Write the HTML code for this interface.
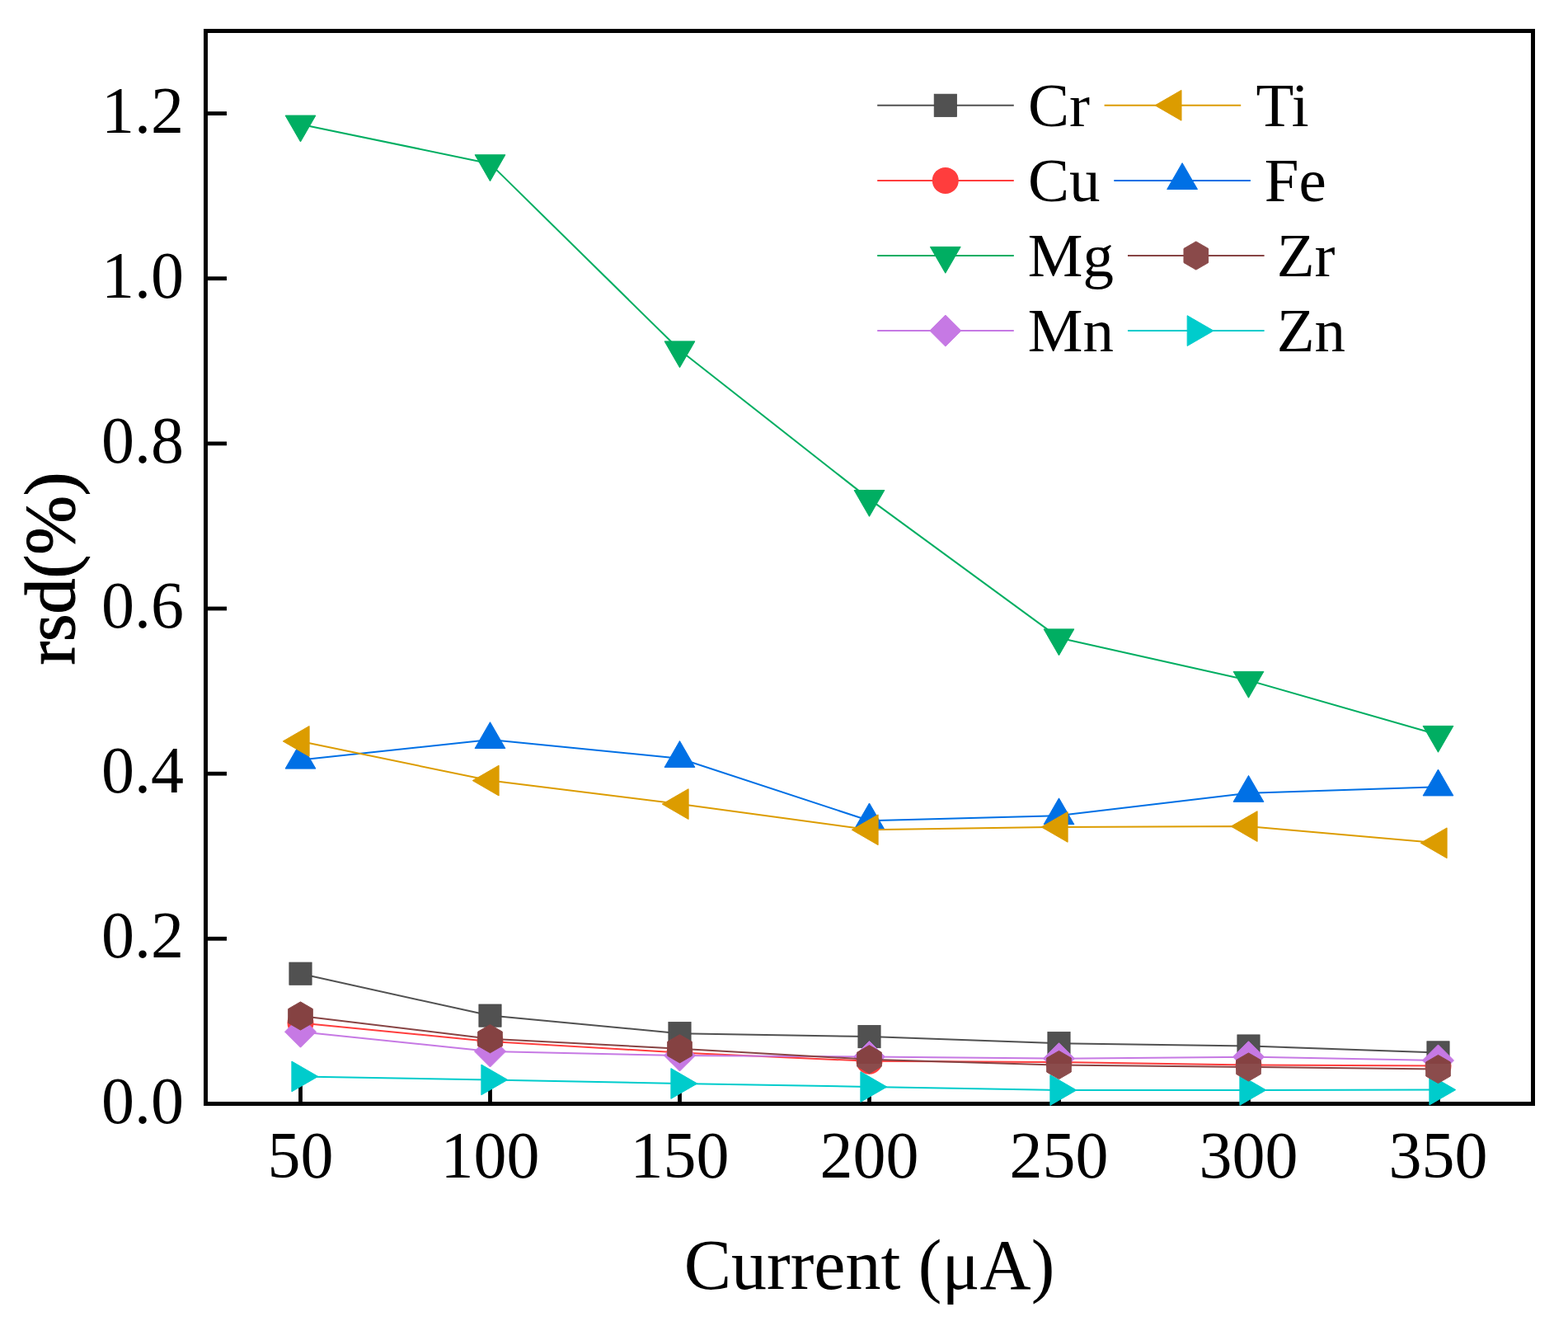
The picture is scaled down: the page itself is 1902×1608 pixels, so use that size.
<!DOCTYPE html>
<html><head><meta charset="utf-8"><style>
html,body{margin:0;padding:0;background:#fff;}
svg{display:block;}
text{font-family:"Liberation Serif","Times New Roman",serif;fill:#000;}
.tk{font-size:80px;}
.ttl{font-size:86px;}
.yttl{font-size:86px;stroke:#000;stroke-width:1.1px;}
.lg{font-size:75px;}
</style></head><body>
<svg width="1902" height="1608" viewBox="0 0 1902 1608">
<defs><linearGradient id="zrg" gradientUnits="userSpaceOnUse" x1="0" y1="1289.5" x2="0" y2="1290.5"><stop offset="0" stop-color="#854242"/><stop offset="1" stop-color="#8B4C4C"/></linearGradient></defs>
<rect width="1902" height="1608" fill="#fff"/>
<rect x="249.5" y="37.5" width="1610" height="1301" fill="none" stroke="#000" stroke-width="5"/>
<line x1="252" y1="1338.5" x2="275" y2="1338.5" stroke="#000" stroke-width="4.8"/>
<line x1="252" y1="1138.3" x2="275" y2="1138.3" stroke="#000" stroke-width="4.8"/>
<line x1="252" y1="938.2" x2="275" y2="938.2" stroke="#000" stroke-width="4.8"/>
<line x1="252" y1="738.0" x2="275" y2="738.0" stroke="#000" stroke-width="4.8"/>
<line x1="252" y1="537.9" x2="275" y2="537.9" stroke="#000" stroke-width="4.8"/>
<line x1="252" y1="337.7" x2="275" y2="337.7" stroke="#000" stroke-width="4.8"/>
<line x1="252" y1="137.6" x2="275" y2="137.6" stroke="#000" stroke-width="4.8"/>
<line x1="364.5" y1="1336" x2="364.5" y2="1315.5" stroke="#000" stroke-width="4.8"/>
<line x1="594.5" y1="1336" x2="594.5" y2="1315.5" stroke="#000" stroke-width="4.8"/>
<line x1="824.5" y1="1336" x2="824.5" y2="1315.5" stroke="#000" stroke-width="4.8"/>
<line x1="1054.5" y1="1336" x2="1054.5" y2="1315.5" stroke="#000" stroke-width="4.8"/>
<line x1="1284.5" y1="1336" x2="1284.5" y2="1315.5" stroke="#000" stroke-width="4.8"/>
<line x1="1514.5" y1="1336" x2="1514.5" y2="1315.5" stroke="#000" stroke-width="4.8"/>
<line x1="1744.5" y1="1336" x2="1744.5" y2="1315.5" stroke="#000" stroke-width="4.8"/>
<polyline points="364.5,1180.7 594.5,1231.6 824.5,1253.2 1054.5,1257.1 1284.5,1265.2 1514.5,1268.5 1744.5,1276.4" fill="none" stroke="#515151" stroke-width="2" stroke-linejoin="round"/>
<rect x="350.9" y="1167.1" width="27.2" height="27.2" fill="#515151" stroke="#444" stroke-width="0.8"/>
<rect x="580.9" y="1218" width="27.2" height="27.2" fill="#515151" stroke="#444" stroke-width="0.8"/>
<rect x="810.9" y="1239.6" width="27.2" height="27.2" fill="#515151" stroke="#444" stroke-width="0.8"/>
<rect x="1040.9" y="1243.5" width="27.2" height="27.2" fill="#515151" stroke="#444" stroke-width="0.8"/>
<rect x="1270.9" y="1251.6" width="27.2" height="27.2" fill="#515151" stroke="#444" stroke-width="0.8"/>
<rect x="1500.9" y="1254.9" width="27.2" height="27.2" fill="#515151" stroke="#444" stroke-width="0.8"/>
<rect x="1730.9" y="1262.8" width="27.2" height="27.2" fill="#515151" stroke="#444" stroke-width="0.8"/>
<polyline points="364.5,1240.4 594.5,1262.9 824.5,1276.5 1054.5,1286.8 1284.5,1288.0 1514.5,1291.5 1744.5,1292.6" fill="none" stroke="#FF3D3D" stroke-width="2" stroke-linejoin="round"/>
<circle cx="364.5" cy="1240.4" r="16" fill="#FF3D3D"/>
<circle cx="594.5" cy="1262.9" r="16" fill="#FF3D3D"/>
<circle cx="824.5" cy="1276.5" r="16" fill="#FF3D3D"/>
<circle cx="1054.5" cy="1286.8" r="16" fill="#FF3D3D"/>
<circle cx="1284.5" cy="1288" r="16" fill="#FF3D3D"/>
<circle cx="1514.5" cy="1291.5" r="16" fill="#FF3D3D"/>
<circle cx="1744.5" cy="1292.6" r="16" fill="#FF3D3D"/>
<polyline points="364.5,921.5 594.5,896.9 824.5,919.8 1054.5,995.2 1284.5,989.1 1514.5,961.7 1744.5,954.3" fill="none" stroke="#0070E5" stroke-width="2" stroke-linejoin="round"/>
<polygon points="364.5,900.25 382.9,932.12 346.1,932.12" fill="#0070E5" stroke="#0070E5" stroke-width="1" stroke-linejoin="round"/>
<polygon points="594.5,875.65 612.9,907.52 576.1,907.52" fill="#0070E5" stroke="#0070E5" stroke-width="1" stroke-linejoin="round"/>
<polygon points="824.5,898.55 842.9,930.42 806.1,930.42" fill="#0070E5" stroke="#0070E5" stroke-width="1" stroke-linejoin="round"/>
<polygon points="1054.5,973.95 1072.9,1005.82 1036.1,1005.82" fill="#0070E5" stroke="#0070E5" stroke-width="1" stroke-linejoin="round"/>
<polygon points="1284.5,967.85 1302.9,999.72 1266.1,999.72" fill="#0070E5" stroke="#0070E5" stroke-width="1" stroke-linejoin="round"/>
<polygon points="1514.5,940.45 1532.9,972.32 1496.1,972.32" fill="#0070E5" stroke="#0070E5" stroke-width="1" stroke-linejoin="round"/>
<polygon points="1744.5,933.05 1762.9,964.92 1726.1,964.92" fill="#0070E5" stroke="#0070E5" stroke-width="1" stroke-linejoin="round"/>
<polyline points="364.5,150.7 594.5,198.4 824.5,424.5 1054.5,605.1 1284.5,773.5 1514.5,825.0 1744.5,891.0" fill="none" stroke="#00AE62" stroke-width="2" stroke-linejoin="round"/>
<polygon points="364.5,171.95 382.9,140.08 346.1,140.08" fill="#00AE62" stroke="#00AE62" stroke-width="1" stroke-linejoin="round"/>
<polygon points="594.5,219.65 612.9,187.78 576.1,187.78" fill="#00AE62" stroke="#00AE62" stroke-width="1" stroke-linejoin="round"/>
<polygon points="824.5,445.75 842.9,413.88 806.1,413.88" fill="#00AE62" stroke="#00AE62" stroke-width="1" stroke-linejoin="round"/>
<polygon points="1054.5,626.35 1072.9,594.48 1036.1,594.48" fill="#00AE62" stroke="#00AE62" stroke-width="1" stroke-linejoin="round"/>
<polygon points="1284.5,794.75 1302.9,762.88 1266.1,762.88" fill="#00AE62" stroke="#00AE62" stroke-width="1" stroke-linejoin="round"/>
<polygon points="1514.5,846.25 1532.9,814.38 1496.1,814.38" fill="#00AE62" stroke="#00AE62" stroke-width="1" stroke-linejoin="round"/>
<polygon points="1744.5,912.25 1762.9,880.38 1726.1,880.38" fill="#00AE62" stroke="#00AE62" stroke-width="1" stroke-linejoin="round"/>
<polyline points="364.5,1251.2 594.5,1275.0 824.5,1280.0 1054.5,1281.5 1284.5,1283.7 1514.5,1281.7 1744.5,1285.9" fill="none" stroke="#C679E4" stroke-width="2" stroke-linejoin="round"/>
<polygon points="364.5,1232.2 383.5,1251.2 364.5,1270.2 345.5,1251.2" fill="#C679E4" stroke="#C679E4" stroke-width="1" stroke-linejoin="round"/>
<polygon points="594.5,1256 613.5,1275 594.5,1294 575.5,1275" fill="#C679E4" stroke="#C679E4" stroke-width="1" stroke-linejoin="round"/>
<polygon points="824.5,1261 843.5,1280 824.5,1299 805.5,1280" fill="#C679E4" stroke="#C679E4" stroke-width="1" stroke-linejoin="round"/>
<polygon points="1054.5,1262.5 1073.5,1281.5 1054.5,1300.5 1035.5,1281.5" fill="#C679E4" stroke="#C679E4" stroke-width="1" stroke-linejoin="round"/>
<polygon points="1284.5,1264.7 1303.5,1283.7 1284.5,1302.7 1265.5,1283.7" fill="#C679E4" stroke="#C679E4" stroke-width="1" stroke-linejoin="round"/>
<polygon points="1514.5,1262.7 1533.5,1281.7 1514.5,1300.7 1495.5,1281.7" fill="#C679E4" stroke="#C679E4" stroke-width="1" stroke-linejoin="round"/>
<polygon points="1744.5,1266.9 1763.5,1285.9 1744.5,1304.9 1725.5,1285.9" fill="#C679E4" stroke="#C679E4" stroke-width="1" stroke-linejoin="round"/>
<polyline points="364.5,898.9 594.5,946.6 824.5,975.1 1054.5,1006.3 1284.5,1002.9 1514.5,1002.1 1744.5,1022.3" fill="none" stroke="#DC9C00" stroke-width="2" stroke-linejoin="round"/>
<polygon points="343.25,898.9 375.12,880.5 375.12,917.3" fill="#DC9C00" stroke="#DC9C00" stroke-width="1" stroke-linejoin="round"/>
<polygon points="573.25,946.6 605.12,928.2 605.12,965" fill="#DC9C00" stroke="#DC9C00" stroke-width="1" stroke-linejoin="round"/>
<polygon points="803.25,975.1 835.12,956.7 835.12,993.5" fill="#DC9C00" stroke="#DC9C00" stroke-width="1" stroke-linejoin="round"/>
<polygon points="1033.25,1006.3 1065.12,987.9 1065.12,1024.7" fill="#DC9C00" stroke="#DC9C00" stroke-width="1" stroke-linejoin="round"/>
<polygon points="1263.25,1002.9 1295.12,984.5 1295.12,1021.3" fill="#DC9C00" stroke="#DC9C00" stroke-width="1" stroke-linejoin="round"/>
<polygon points="1493.25,1002.1 1525.12,983.7 1525.12,1020.5" fill="#DC9C00" stroke="#DC9C00" stroke-width="1" stroke-linejoin="round"/>
<polygon points="1723.25,1022.3 1755.12,1003.9 1755.12,1040.7" fill="#DC9C00" stroke="#DC9C00" stroke-width="1" stroke-linejoin="round"/>
<polyline points="364.5,1305.4 594.5,1309.4 824.5,1314.0 1054.5,1318.0 1284.5,1322.0 1514.5,1321.9 1744.5,1321.6" fill="none" stroke="#00CCCC" stroke-width="2" stroke-linejoin="round"/>
<polygon points="385.75,1305.4 353.88,1287 353.88,1323.8" fill="#00CCCC" stroke="#00CCCC" stroke-width="1" stroke-linejoin="round"/>
<polygon points="615.75,1309.4 583.88,1291 583.88,1327.8" fill="#00CCCC" stroke="#00CCCC" stroke-width="1" stroke-linejoin="round"/>
<polygon points="845.75,1314 813.88,1295.6 813.88,1332.4" fill="#00CCCC" stroke="#00CCCC" stroke-width="1" stroke-linejoin="round"/>
<polygon points="1075.75,1318 1043.88,1299.6 1043.88,1336.4" fill="#00CCCC" stroke="#00CCCC" stroke-width="1" stroke-linejoin="round"/>
<polygon points="1305.75,1322 1273.88,1303.6 1273.88,1340.4" fill="#00CCCC" stroke="#00CCCC" stroke-width="1" stroke-linejoin="round"/>
<polygon points="1535.75,1321.9 1503.88,1303.5 1503.88,1340.3" fill="#00CCCC" stroke="#00CCCC" stroke-width="1" stroke-linejoin="round"/>
<polygon points="1765.75,1321.6 1733.88,1303.2 1733.88,1340" fill="#00CCCC" stroke="#00CCCC" stroke-width="1" stroke-linejoin="round"/>
<polyline points="364.5,1232.0 594.5,1259.7 824.5,1271.8 1054.5,1284.7 1284.5,1291.5 1514.5,1294.0 1744.5,1296.5" fill="none" stroke="#874444" stroke-width="2" stroke-linejoin="round"/>
<polygon points="364.5,1214.9 349.69,1223.45 349.69,1240.55 364.5,1249.1 379.31,1240.55 379.31,1223.45" fill="url(#zrg)" stroke="url(#zrg)" stroke-width="1" stroke-linejoin="round"/>
<polygon points="594.5,1242.6 579.69,1251.15 579.69,1268.25 594.5,1276.8 609.31,1268.25 609.31,1251.15" fill="url(#zrg)" stroke="url(#zrg)" stroke-width="1" stroke-linejoin="round"/>
<polygon points="824.5,1254.7 809.69,1263.25 809.69,1280.35 824.5,1288.9 839.31,1280.35 839.31,1263.25" fill="url(#zrg)" stroke="url(#zrg)" stroke-width="1" stroke-linejoin="round"/>
<polygon points="1054.5,1267.6 1039.69,1276.15 1039.69,1293.25 1054.5,1301.8 1069.31,1293.25 1069.31,1276.15" fill="url(#zrg)" stroke="url(#zrg)" stroke-width="1" stroke-linejoin="round"/>
<polygon points="1284.5,1274.4 1269.69,1282.95 1269.69,1300.05 1284.5,1308.6 1299.31,1300.05 1299.31,1282.95" fill="url(#zrg)" stroke="url(#zrg)" stroke-width="1" stroke-linejoin="round"/>
<polygon points="1514.5,1276.9 1499.69,1285.45 1499.69,1302.55 1514.5,1311.1 1529.31,1302.55 1529.31,1285.45" fill="url(#zrg)" stroke="url(#zrg)" stroke-width="1" stroke-linejoin="round"/>
<polygon points="1744.5,1279.4 1729.69,1287.95 1729.69,1305.05 1744.5,1313.6 1759.31,1305.05 1759.31,1287.95" fill="url(#zrg)" stroke="url(#zrg)" stroke-width="1" stroke-linejoin="round"/>
<text x="223" y="1361.5" text-anchor="end" class="tk">0.0</text>
<text x="223" y="1161.3" text-anchor="end" class="tk">0.2</text>
<text x="223" y="961.2" text-anchor="end" class="tk">0.4</text>
<text x="223" y="761.0" text-anchor="end" class="tk">0.6</text>
<text x="223" y="560.9" text-anchor="end" class="tk">0.8</text>
<text x="223" y="360.7" text-anchor="end" class="tk">1.0</text>
<text x="223" y="160.6" text-anchor="end" class="tk">1.2</text>
<text x="364.5" y="1427.5" text-anchor="middle" class="tk">50</text>
<text x="594.5" y="1427.5" text-anchor="middle" class="tk">100</text>
<text x="824.5" y="1427.5" text-anchor="middle" class="tk">150</text>
<text x="1054.5" y="1427.5" text-anchor="middle" class="tk">200</text>
<text x="1284.5" y="1427.5" text-anchor="middle" class="tk">250</text>
<text x="1514.5" y="1427.5" text-anchor="middle" class="tk">300</text>
<text x="1744.5" y="1427.5" text-anchor="middle" class="tk">350</text>
<text x="1054.5" y="1563" text-anchor="middle" class="ttl">Current (μA)</text>
<text transform="translate(89.5,689.5) rotate(-90)" x="0" y="0" text-anchor="middle" class="yttl">rsd(%)</text>
<line x1="1064.2" y1="127.8" x2="1229.8" y2="127.8" stroke="#515151" stroke-width="2"/>
<rect x="1133.2" y="114.2" width="27.2" height="27.2" fill="#515151" stroke="#444" stroke-width="0.8"/>
<text x="1246.9" y="152.6" class="lg">Cr</text>
<line x1="1064.2" y1="218.9" x2="1229.8" y2="218.9" stroke="#FF3D3D" stroke-width="2"/>
<circle cx="1146.8" cy="218.9" r="16" fill="#FF3D3D"/>
<text x="1246.9" y="243.7" class="lg">Cu</text>
<line x1="1064.2" y1="310.0" x2="1229.8" y2="310.0" stroke="#00AE62" stroke-width="2"/>
<polygon points="1146.8,331.25 1165.2,299.38 1128.4,299.38" fill="#00AE62" stroke="#00AE62" stroke-width="1" stroke-linejoin="round"/>
<text x="1246.8" y="334.8" class="lg">Mg</text>
<line x1="1064.2" y1="401.1" x2="1229.8" y2="401.1" stroke="#C679E4" stroke-width="2"/>
<polygon points="1146.8,382.1 1165.8,401.1 1146.8,420.1 1127.8,401.1" fill="#C679E4" stroke="#C679E4" stroke-width="1" stroke-linejoin="round"/>
<text x="1246.8" y="425.9" class="lg">Mn</text>
<line x1="1339.6" y1="127.8" x2="1505.2" y2="127.8" stroke="#DC9C00" stroke-width="2"/>
<polygon points="1401.15,127.8 1433.02,109.4 1433.02,146.2" fill="#DC9C00" stroke="#DC9C00" stroke-width="1" stroke-linejoin="round"/>
<text x="1523.5" y="152.6" class="lg">Ti</text>
<line x1="1351.3" y1="218.9" x2="1516.9" y2="218.9" stroke="#0070E5" stroke-width="2"/>
<polygon points="1434.1,197.65 1452.5,229.52 1415.7,229.52" fill="#0070E5" stroke="#0070E5" stroke-width="1" stroke-linejoin="round"/>
<text x="1533.8" y="243.7" class="lg">Fe</text>
<line x1="1368.0" y1="310.0" x2="1533.6" y2="310.0" stroke="#874444" stroke-width="2"/>
<polygon points="1450.8,292.9 1435.99,301.45 1435.99,318.55 1450.8,327.1 1465.61,318.55 1465.61,301.45" fill="#8A4A4A" stroke="#8A4A4A" stroke-width="1" stroke-linejoin="round"/>
<text x="1548.8" y="334.8" class="lg">Zr</text>
<line x1="1368.0" y1="401.1" x2="1533.6" y2="401.1" stroke="#00CCCC" stroke-width="2"/>
<polygon points="1472.05,401.1 1440.18,382.7 1440.18,419.5" fill="#00CCCC" stroke="#00CCCC" stroke-width="1" stroke-linejoin="round"/>
<text x="1548.8" y="425.9" class="lg">Zn</text>
</svg>
</body></html>
